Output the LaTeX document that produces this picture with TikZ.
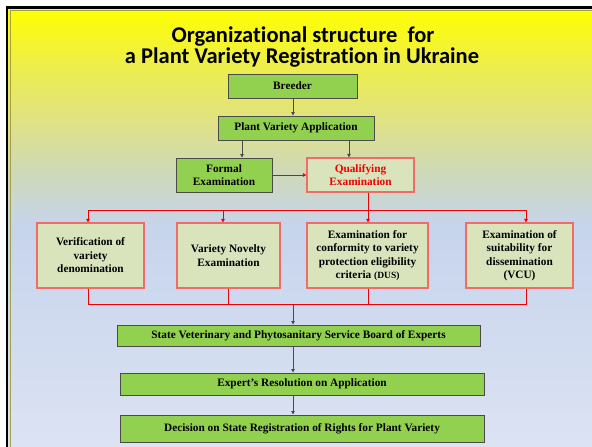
\documentclass[tikz,border=0pt]{standalone}
\usepackage{fontspec}
\setmainfont{Liberation Serif}
\newfontfamily\titlefont[Ligatures={NoCommon,NoContextual}]{Carlito}
\usetikzlibrary{arrows.meta}

\definecolor{boxgreen}{HTML}{92D050}
\definecolor{palegreen}{HTML}{D9E4BC}
\definecolor{linkred}{HTML}{F00000}
\definecolor{edgered}{HTML}{F26B6B}
\definecolor{linkgray}{HTML}{4A4A4A}
\definecolor{bgA}{HTML}{FFFF00}
\definecolor{bgB}{HTML}{EFEF45}
\definecolor{bgC}{HTML}{DDE08E}
\definecolor{bgD}{HTML}{CFD9B6}
\definecolor{bgE}{HTML}{C6D4EC}
\definecolor{bgF}{HTML}{DCE3F3}

\tikzset{
  boxtext/.style={font=\bfseries\fontsize{11.3}{13.5}\selectfont, align=center, inner sep=0pt},
  greenbox/.style={boxtext, draw=linkgray, line width=0.9pt, fill=boxgreen},
  exambox/.style={boxtext, draw=edgered, line width=1.1pt, fill=palegreen},
  graylink/.style={draw=linkgray, line width=0.8pt},
  redlink/.style={draw=linkred, line width=0.8pt},
  tip/.style={-{Triangle[length=3.5pt,width=3.5pt]}},
  titleline/.style={font=\titlefont\bfseries\fontsize{22.5}{23}\selectfont, inner sep=0pt, anchor=base},
}

\begin{document}
\begin{tikzpicture}[x=1pt,y=-1pt]
\useasboundingbox (0,0) rectangle (592,447);

% slide background: yellow fading into pale blue
\fill[top color=bgA, bottom color=bgB] (8,8) rectangle (592,61);
\fill[top color=bgB, bottom color=bgC] (8,60) rectangle (592,131);
\fill[top color=bgC, bottom color=bgD] (8,130) rectangle (592,171);
\fill[top color=bgD, bottom color=bgE] (8,170) rectangle (592,226);
\fill[top color=bgE, bottom color=bgF] (8,225) rectangle (592,447);

% frame on the left and top edges
\draw[line width=0.6pt, draw=black!40!yellow] (9.8,447) -- (9.8,10) -- (592,10);
\draw[line width=2.6pt] (7,447) -- (7,7.5) -- (592,7.5);

% title
\node[titleline] (title1) at (303,42) {Organizational structure~ for};
\node[titleline] (title2) at (302,63) {a Plant Variety Registration in Ukraine};

% boxes
\node[greenbox, minimum width=129pt, minimum height=24pt] (breeder) at (292.5,86) {Breeder};
\node[greenbox, minimum width=156pt, minimum height=24pt] (app) at (296,128) {Plant Variety Application};
\node[greenbox, minimum width=96pt, minimum height=34pt] (formal) at (224,175) {Formal\\Examination};
\node[exambox, minimum width=107pt, minimum height=34pt, text=linkred] (qual) at (360.5,175) {Qualifying\\Examination};

\node[exambox, minimum width=107pt, minimum height=65pt] (verif) at (90.5,255.5) {Verification of\\variety\\denomination};
\node[exambox, minimum width=103pt, minimum height=65pt] (novel) at (228.5,255.5) {Variety Novelty\\Examination};
\node[exambox, minimum width=121pt, minimum height=65pt] (dus) at (367.5,255.5) {Examination for\\conformity to variety\\protection eligibility\\criteria {\fontsize{9.5}{13.5}\selectfont(DUS)}};
\node[exambox, minimum width=107pt, minimum height=65pt] (vcu) at (519.5,255.5) {Examination of\\suitability for\\dissemination\\(VCU)};

\node[greenbox, minimum width=363pt, minimum height=21pt] (board) at (298.5,335.5) {State Veterinary and Phytosanitary Service Board of Experts};
\node[greenbox, minimum width=364pt, minimum height=22pt] (resol) at (302,384) {Expert’s Resolution on Application};
\node[greenbox, minimum width=364pt, minimum height=27pt] (decis) at (302,428.5) {Decision on State Registration of Rights for Plant Variety};

% junction points of the red distribution and collection lines
\coordinate (splitL) at (88,210);
\coordinate (splitA) at (223,210);
\coordinate (splitB) at (368,210);
\coordinate (splitR) at (526,210);
\coordinate (joinL) at (88,304);
\coordinate (joinA) at (228,304);
\coordinate (joinB) at (368,304);
\coordinate (joinR) at (526,304);
\coordinate (joinM) at (293,304);
\coordinate (appL) at (242,0);
\coordinate (appR) at (349,0);

% upper flow
\draw[graylink, tip] (breeder.south -| joinM) -- (app.north -| joinM);
\draw[graylink, tip] (app.south -| appL) -- (formal.north -| appL);
\draw[graylink, tip] (app.south -| appR) -- (qual.north -| appR);
\draw[redlink, tip] (formal.east) -- (qual.west);

% distribution to the four examinations
\draw[redlink] (qual.south -| splitB) -- (splitB);
\draw[redlink] (splitL) -- (splitR);
\draw[redlink, tip] (splitL) -- (verif.north -| splitL);
\draw[redlink, tip] (splitA) -- (novel.north -| splitA);
\draw[redlink, tip] (splitB) -- (dus.north -| splitB);
\draw[redlink, tip] (splitR) -- (vcu.north -| splitR);

% collection of the results
\draw[redlink] (verif.south -| joinL) -- (joinL) -- (joinR) -- (vcu.south -| joinR);
\draw[redlink] (novel.south -| joinA) -- (joinA);
\draw[redlink] (dus.south -| joinB) -- (joinB);

% lower flow
\draw[graylink, tip] (joinM) -- (board.north -| joinM);
\draw[graylink, tip] (board.south -| joinM) -- (resol.north -| joinM);
\draw[graylink, tip] (resol.south -| joinM) -- (decis.north -| joinM);
\end{tikzpicture}
\end{document}
